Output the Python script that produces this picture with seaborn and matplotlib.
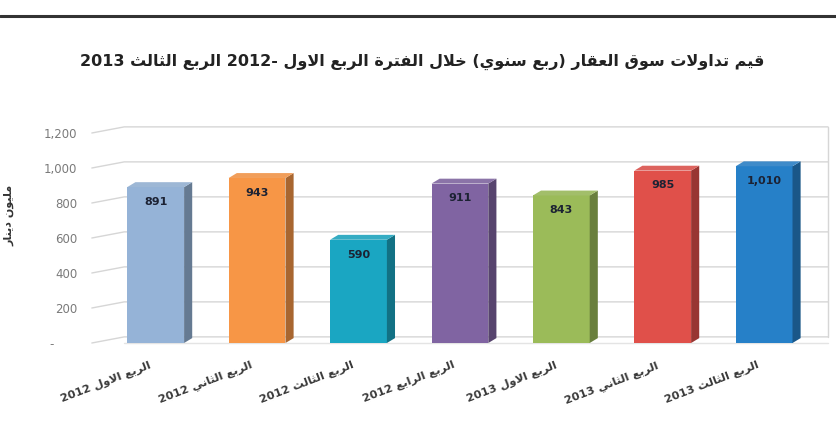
import matplotlib
matplotlib.use("Agg")
import matplotlib.pyplot as plt
import seaborn as sns
import pandas as pd
from matplotlib.patches import Polygon
from matplotlib.lines import Line2D
import matplotlib.colors as mcolors
import matplotlib.transforms as mtransforms

# ---------------- data ----------------
categories = ["الربع الاول 2012", "الربع الثاني 2012", "الربع الثالث 2012",
              "الربع الرابع 2012", "الربع الاول 2013", "الربع الثاني 2013",
              "الربع الثالث 2013"]
values = [891, 943, 590, 911, 843, 985, 1010]
value_labels = ["891", "943", "590", "911", "843", "985", "1,010"]
bar_colors = ["#95b3d7", "#f79646", "#1aa6c2", "#8064a2", "#9bbb59", "#e0504a", "#2680c8"]
y_ticks = [0, 200, 400, 600, 800, 1000, 1200]
y_tick_labels = ["-      ", "200", "400", "600", "800", "1,000", "1,200"]
title_text = "قيم تداولات سوق العقار (ربع سنوي) خلال الفترة الربع الاول 2012- الربع الثالث 2013"
y_label_text = "مليون دينار"

# ------------- minimal Arabic shaping (contextual forms + RTL order) -------------
_dual = {'ب': 0xFE8F, 'ت': 0xFE95, 'ث': 0xFE99, 'ج': 0xFE9D, 'ح': 0xFEA1, 'خ': 0xFEA5,
         'س': 0xFEB1, 'ش': 0xFEB5, 'ص': 0xFEB9, 'ض': 0xFEBD, 'ط': 0xFEC1, 'ظ': 0xFEC5,
         'ع': 0xFEC9, 'غ': 0xFECD, 'ف': 0xFED1, 'ق': 0xFED5, 'ك': 0xFED9, 'ل': 0xFEDD,
         'م': 0xFEE1, 'ن': 0xFEE5, 'ه': 0xFEE9, 'ي': 0xFEF1}
_right = {'ا': 0xFE8D, 'أ': 0xFE83, 'إ': 0xFE87, 'آ': 0xFE81, 'ة': 0xFE93, 'د': 0xFEA9,
          'ذ': 0xFEAB, 'ر': 0xFEAD, 'ز': 0xFEAF, 'و': 0xFEED, 'ى': 0xFEEF}
_lamalef = {'ا': 0xFEFB, 'أ': 0xFEF7, 'إ': 0xFEF9, 'آ': 0xFEF5}


def _shape_word(word):
    toks = []
    i = 0
    while i < len(word):
        c = word[i]
        if c == 'ل' and i + 1 < len(word) and word[i + 1] in _lamalef:
            toks.append(('LA', word[i + 1]))
            i += 2
        else:
            toks.append(('C', c))
            i += 1

    def is_ar(t):
        return t[0] == 'LA' or t[1] in _dual or t[1] in _right

    def is_dual(t):
        return t[0] == 'C' and t[1] in _dual

    out = []
    for k, t in enumerate(toks):
        if not is_ar(t):
            out.append(t[1])
            continue
        jp = k > 0 and is_dual(toks[k - 1])
        jn = is_dual(t) and k + 1 < len(toks) and is_ar(toks[k + 1])
        if t[0] == 'LA':
            base = _lamalef[t[1]]
            out.append(chr(base + 1 if jp else base))
        elif t[1] in _dual:
            base = _dual[t[1]]
            off = 3 if (jp and jn) else 1 if jp else 2 if jn else 0
            out.append(chr(base + off))
        else:
            base = _right[t[1]]
            out.append(chr(base + 1 if jp else base))
    return out


def ar(text):
    mirror = {'(': ')', ')': '('}
    words = text.split(' ')
    vis = []
    for w in reversed(words):
        if any(ch in _dual or ch in _right for ch in w):
            chars = _shape_word(w)[::-1]
            vis.append(''.join(mirror.get(ch, ch) for ch in chars))
        else:
            vis.append(w)
    return ' '.join(vis)


# ---------------- figure ----------------
sns.set_theme(style="white")
plt.rcParams['font.family'] = ['DejaVu Sans']

fig = plt.figure(figsize=(8.37, 4.41), dpi=100)
ax = fig.add_axes([105 / 837, (441 - 343) / 441, (828 - 105) / 837, (343 - 133) / 441])

df = pd.DataFrame({"cat": categories, "val": values})
sns.barplot(data=df, x="cat", y="val", hue="cat", palette=bar_colors, legend=False,
            width=0.56, saturation=1, ax=ax, zorder=3, edgecolor="none")

ax.set_xlim(-0.5, 6.63)
ax.set_ylim(0, 1200)

# 3D-like faces and value labels
DX, DY = 0.08, 28
for p, col, lab in zip(ax.patches, bar_colors, value_labels):
    x0, w, h = p.get_x(), p.get_width(), p.get_height()
    rgb = mcolors.to_rgb(col)
    dark = tuple(c * 0.68 for c in rgb)
    light = tuple(min(1, c * 0.85 + 0.12) for c in rgb)
    side = Polygon([(x0 + w, 0), (x0 + w + DX, DY), (x0 + w + DX, h + DY), (x0 + w, h)],
                   closed=True, facecolor=dark, edgecolor="none", zorder=3)
    top = Polygon([(x0, h), (x0 + DX, h + DY), (x0 + w + DX, h + DY), (x0 + w, h)],
                  closed=True, facecolor=light, edgecolor="none", zorder=3, clip_on=False)
    ax.add_patch(side)
    ax.add_patch(top)
    ax.text(x0 + w / 2, h - 85, lab, ha="center", va="center", fontsize=8,
            fontweight="bold", color="#1c2233", zorder=5)

# walls / gridlines with perspective slant
GRID = "#d6d6d6"
for v in y_ticks:
    ax.add_line(Line2D([-0.63, -0.31, 6.63], [v, v + 35, v + 35], color=GRID, lw=1.0,
                       zorder=1, clip_on=False))
ax.add_line(Line2D([6.63, 6.63], [35, 1235], color=GRID, lw=1.0, zorder=1, clip_on=False))
ax.add_line(Line2D([-0.31, 6.63], [0, 0], color="#e4e4e4", lw=1.0, zorder=2, clip_on=False))

for s in ax.spines.values():
    s.set_visible(False)
ax.grid(False)

ax.set_yticks(y_ticks)
ax.set_yticklabels(y_tick_labels, fontsize=8.5, color="#7a7a7a")
ax.tick_params(axis="y", length=0, pad=20)

ax.set_xticks(range(len(categories)))
ax.set_xticklabels([ar(c) for c in categories], fontsize=8.2, color="#3a3a3a",
                   rotation=21, ha="right", rotation_mode="anchor", fontweight="bold")
ax.tick_params(axis="x", length=0, pad=12)
offset = mtransforms.ScaledTranslation(-7 / 100, 0, fig.dpi_scale_trans)
for t in ax.get_xticklabels():
    t.set_transform(t.get_transform() + offset)

ax.set_xlabel("")
ax.set_ylabel("")

# title, y label, top rule
fig.text(422 / 837, 1 - 62 / 441, ar(title_text), ha="center", va="center",
         fontsize=11.5, fontweight="bold", color="#222222")
fig.text(9 / 837, 1 - 215 / 441, ar(y_label_text), ha="center", va="center",
         rotation=90, fontsize=8, fontweight="bold", color="#333333")
fig.add_artist(Line2D([0, 1], [1 - 16 / 441, 1 - 16 / 441], color="#333333", lw=2.2,
                      transform=fig.transFigure))

fig.savefig("out.png", dpi=100)
